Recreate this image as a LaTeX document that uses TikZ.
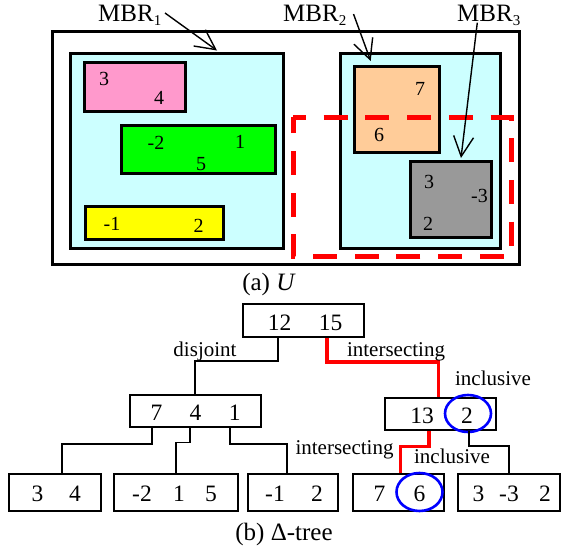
\documentclass[tikz,border=0pt]{standalone}
\usepackage{fontspec}
\setmainfont{Liberation Serif}
\usetikzlibrary{arrows.meta,calc}

\definecolor{mbrfill}{HTML}{CCFFFF}
\definecolor{pinkfill}{HTML}{FF99CC}
\definecolor{greenfill}{HTML}{00FF00}
\definecolor{yellowfill}{HTML}{FFFF00}
\definecolor{orangefill}{HTML}{FFCC99}
\definecolor{grayfill}{HTML}{999999}

\newcommand\mbrsub[1]{\raisebox{-3.5pt}{\fontsize{15}{15}\selectfont #1}}

\begin{document}
\begin{tikzpicture}[x=1pt,y=-1pt,
  region/.style={line width=3pt},
  query/.style={red,line width=5pt,dash pattern=on 24pt off 17.7pt,dash phase=11pt},
  num/.style={inner sep=0pt,anchor=base,font=\fontsize{20}{24}\selectfont},
  mbr/.style={inner sep=0pt,anchor=base west,font=\fontsize{25}{30}\selectfont},
  pointer/.style={line width=1.4pt,-{Straight Barb[length=20pt,width=20pt]}},
  treebox/.style={draw,line width=2pt,inner sep=0pt,minimum height=32.4pt},
  leaf/.style={treebox,minimum height=36.4pt},
  tnum/.style={inner sep=0pt,anchor=base,font=\fontsize{23.5}{28}\selectfont},
  edgelbl/.style={inner sep=0pt,anchor=base,font=\fontsize{21}{25}\selectfont},
  caption/.style={inner sep=0pt,anchor=base,font=\fontsize{25}{30}\selectfont},
  link/.style={line width=1.8pt},
  hit/.style={red,line width=3.5pt},
  pick/.style={blue,line width=2.6pt}]
\useasboundingbox (0,0) rectangle (563,549);

% ---------- (a) the region U ----------
\draw[region,fill=white] (52.5,31) rectangle (519,264);
\draw[region,fill=mbrfill] (70,53.5) rectangle (283.5,248);
\draw[region,fill=mbrfill] (340,53.5) rectangle (500,248);
\draw[region,fill=pinkfill] (84,62.7) rectangle (185,111.7);
\draw[region,fill=greenfill] (121.7,125) rectangle (275,173.3);
\draw[region,fill=yellowfill] (85,206) rectangle (223.3,239.3);
\draw[region,fill=orangefill] (354,66.7) rectangle (439.3,152.3);
\draw[region,fill=grayfill] (410,161) rectangle (491,237.3);

% query window
\draw[query] (293,117) -- (511,117) -- (511,256) -- (293,256) -- cycle;

% values inside the rectangles
\node[num] (p3) at (104,85) {3};
\node[num] (p4) at (159,104) {4};
\node[num] (g2) at (156,149.3) {-2};
\node[num] (g1) at (240,148.3) {1};
\node[num] (g5) at (201,170) {5};
\node[num] (y1) at (112,230.7) {-1};
\node[num] (y2) at (198.5,232) {2};
\node[num] (o7) at (420,95) {7};
\node[num] (o6) at (379,141.7) {6};
\node[num] (k3) at (429,188.3) {3};
\node[num] (k33) at (479.5,202) {-3};
\node[num] (k2) at (428,230) {2};

% MBR labels and pointers
\node[mbr] (m1) at (98,21.7) {MBR\mbrsub{1}};
\node[mbr] (m2) at (283,21.7) {MBR\mbrsub{2}};
\node[mbr] (m3) at (457,21.7) {MBR\mbrsub{3}};
\coordinate (m1tail) at (165,13);
\coordinate (m1head) at (217,50.5);
\coordinate (m2tail) at (353.5,14);
\coordinate (m2head) at (370.7,61);
\coordinate (m3tail) at (477.3,22.7);
\coordinate (m3head) at (461,158);
\draw[pointer] (m1tail) -- (m1head);
\draw[pointer] (m2tail) -- (m2head);
\draw[pointer] (m3tail) -- (m3head);

\node[caption] (capa) at (269,290) {(a) \textit{U}};

% ---------- (b) the Delta-tree ----------
\node[treebox,minimum width=121.3pt] (root) at (303.3,320.6) {};
\node[treebox,minimum width=131.3pt] (n741) at (195.3,410.7) {};
\node[treebox,minimum width=110.7pt] (n132) at (440.7,413.8) {};
\node[leaf,minimum width=91.7pt] (b34) at (55.2,492.5) {};
\node[leaf,minimum width=124pt] (b215) at (176.3,492.5) {};
\node[leaf,minimum width=90.6pt] (b12) at (293,492.5) {};
\node[leaf,minimum width=90.7pt] (b76) at (398.7,492.5) {};
\node[leaf,minimum width=102.3pt] (b332) at (508.8,492.5) {};

% entries
\node[tnum] (r12) at (279.5,330.7) {12};
\node[tnum] (r15) at (330.5,330.7) {15};
\node[tnum] (a7) at (156.5,420.7) {7};
\node[tnum] (a4) at (195.5,420.7) {4};
\node[tnum] (a1) at (234.7,420.7) {1};
\node[tnum] (c13) at (422,423) {13};
\node[tnum] (c2) at (467,423) {2};
\node[tnum] (l3) at (37.5,501) {3};
\node[tnum] (l4) at (75,501) {4};
\node[tnum] (l22) at (142,501) {-2};
\node[tnum] (l1) at (179,501) {1};
\node[tnum] (l5) at (211,501) {5};
\node[tnum] (l11) at (275,501) {-1};
\node[tnum] (l2) at (317,501) {2};
\node[tnum] (l7) at (379.5,501) {7};
\node[tnum] (l6) at (419.5,501) {6};
\node[tnum] (l33) at (478.5,501) {3};
\node[tnum] (l333) at (509,501) {-3};
\node[tnum] (l32) at (545,501) {2};

% selected entries
\draw[pick] (468,413.5) ellipse [x radius=23pt,y radius=18.5pt];
\draw[pick] (419.5,492) ellipse [x radius=23pt,y radius=19pt];

% tree edges
\draw[link] ($(root.south west)+(36.5,0)$) -- ++(0,23) -| (n741.north);
\draw[hit] ($(root.south west)+(85.3,0)$) -- ++(0,24.3) -| ($(n132.north)+(-2.4,0)$);
\draw[link] ($(n741.south west)+(23.5,0)$) -- ++(0,16) -| ($(b34.north)+(7,0)$);
\draw[link] ($(n741.south west)+(61,0)$) -- ++(0,14.5) -| (b215.north);
\draw[link] ($(n741.south west)+(101.3,0)$) -- ++(0,16) -| ($(b12.north)+(-6,0)$);
\draw[hit] ($(n132.south west)+(44.7,0)$) -- ++(0,15.3) -| ($(b76.north)+(1.6,0)$);
\draw[link] ($(n132.south west)+(84.7,0)$) -- ++(0,15) -| (b332.north);

% edge labels
\node[edgelbl] (ldis) at (205,356) {disjoint};
\node[edgelbl] (lint1) at (396,356) {intersecting};
\node[edgelbl] (linc1) at (493,385) {inclusive};
\node[edgelbl] (lint2) at (344.5,454) {intersecting};
\node[edgelbl] (linc2) at (452,463) {inclusive};

\node[caption] (capb) at (284,540) {(b) Δ-tree};
\end{tikzpicture}
\end{document}
